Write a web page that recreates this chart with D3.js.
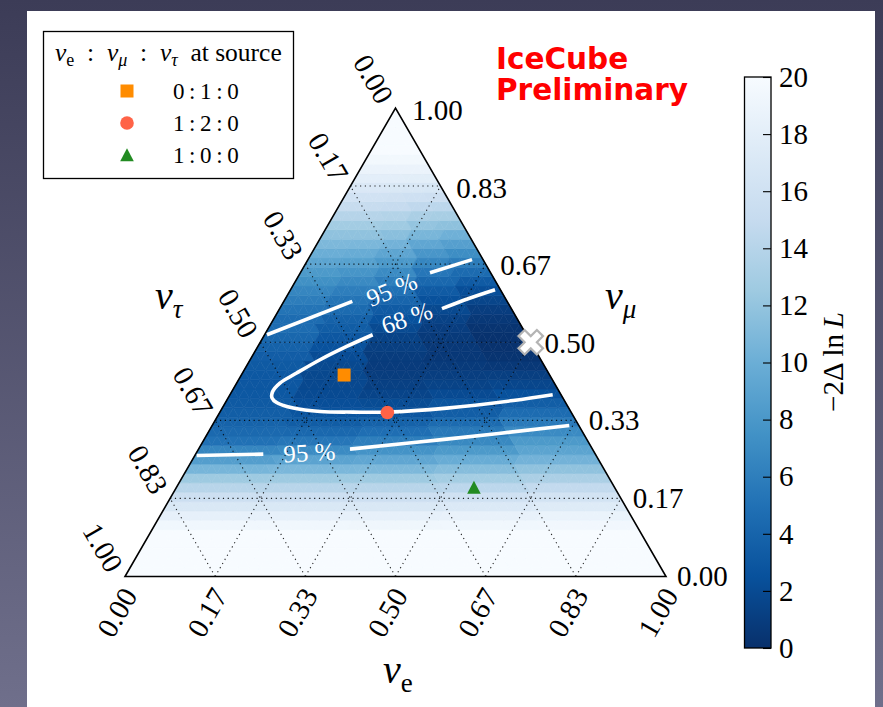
<!DOCTYPE html>
<html>
<head>
<meta charset="utf-8">
<script src="https://cdn.jsdelivr.net/npm/d3@7"></script>
<style>
  body { margin: 0; }
  svg { display: block; }
  .serif { font-family: "Liberation Serif", "Times New Roman", serif; }
</style>
</head>
<body>
<svg id="chart" width="883" height="707"></svg>
<script>
// ---------------- data ----------------
// Tick labels shared by the three ternary axes
const axisTickLabels = ["0.00", "0.17", "0.33", "0.50", "0.67", "0.83", "1.00"];
const axisTickFractions = [0, 1 / 6, 2 / 6, 3 / 6, 4 / 6, 5 / 6, 1];

// -2ΔlnL on horizontal bands of ν_μ fraction (50 bands, 0.00 .. 0.98),
// sampled at five positions along each band, t = ν_e / (ν_e + ν_τ)
const bandCount = 50;
const bandSamplePositions = [0.1, 0.3, 0.5, 0.7, 0.9];
const nll_t10 = [20, 20, 20, 20, 20, 19.3, 18.3, 17.0, 15.6, 14.1,
                 12.5, 10.6, 8.6, 6.6, 5.0, 4.4, 3.9, 3.5, 3.2, 3.05,
                 3.0, 3.05, 3.2, 3.45, 3.8, 4.2, 4.6, 4.6, 5.2, 5.9,
                 6.6, 7.4, 8.2, 9.1, 10.0, 10.9, 11.8, 12.8, 14.0, 15.1,
                 16.1, 17.1, 18.0, 18.8, 19.5, 20, 20, 20, 20, 20];
const nll_t30 = [20, 20, 20, 20, 20, 19.3, 18.3, 17.0, 15.6, 14.1,
                 12.5, 10.8, 9.0, 7.0, 5.4, 4.3, 3.4, 2.8, 2.3, 2.0,
                 1.85, 1.8, 1.9, 2.15, 2.6, 3.0, 3.4, 3.8, 4.5, 5.2,
                 6.0, 6.9, 7.8, 8.8, 9.8, 10.8, 11.8, 12.8, 14.0, 15.1,
                 16.1, 17.1, 18.0, 18.8, 19.5, 20, 20, 20, 20, 20];
const nll_t50 = [20, 20, 20, 20, 20, 19.2, 18.3, 17.0, 15.6, 14.1,
                 12.5, 10.9, 9.3, 7.6, 6.0, 4.8, 3.8, 2.9, 2.1, 1.55,
                 1.2, 0.95, 0.85, 0.9, 1.1, 1.45, 1.95, 2.55, 3.25, 4.1,
                 5.0, 6.0, 7.0, 8.1, 9.2, 10.4, 11.5, 12.6, 13.8, 15.0,
                 16.0, 17.0, 18.0, 18.8, 19.5, 20, 20, 20, 20, 20];
const nll_t70 = [20, 20, 20, 20, 20, 19.3, 18.5, 17.2, 15.9, 14.4,
                 12.9, 11.3, 9.8, 8.2, 6.8, 5.6, 4.5, 3.5, 2.7, 2.0,
                 1.45, 1.05, 0.75, 0.6, 0.6, 0.75, 1.0, 1.4, 1.9, 2.5,
                 3.3, 4.3, 5.4, 6.6, 7.9, 9.3, 10.7, 12.0, 13.3, 14.6,
                 15.8, 16.9, 17.9, 18.8, 19.5, 20, 20, 20, 20, 20];
const nll_t90 = [20, 20, 20, 20, 20, 19.4, 18.7, 17.5, 16.2, 14.8,
                 13.3, 11.8, 10.4, 9.1, 8.2, 7.0, 5.7, 4.6, 3.5, 2.5,
                 1.7, 1.1, 0.6, 0.3, 0.15, 0.15, 0.3, 0.6, 1.0, 1.6,
                 2.3, 3.3, 4.5, 5.8, 7.2, 8.7, 10.2, 11.7, 13.1, 14.4,
                 15.7, 16.8, 17.9, 18.8, 19.5, 20, 20, 20, 20, 20];

// Confidence contours as [ν_e, ν_μ] polylines (gaps leave room for labels)
const contour68 = [
  [[0.3778, 0.6122], [0.3376, 0.5929], [0.3001, 0.5716]],
  [[0.1998, 0.5160], [0.1643, 0.4910], [0.1292, 0.4626], [0.1002, 0.4342],
   [0.0800, 0.4128], [0.0756, 0.3942], [0.0810, 0.3814], [0.0956, 0.3707],
   [0.1314, 0.3594], [0.1845, 0.3521], [0.2466, 0.3509], [0.3094, 0.3509],
   [0.4150, 0.3594], [0.5300, 0.3756], [0.5967, 0.3878]]
];
const contour95 = [
  [[0.3033, 0.6763], [0.2395, 0.6485]],
  [[0.1266, 0.5872], [0.0044, 0.5160]],
  [[0.0035, 0.2581], [0.1251, 0.2611]],
  [[0.2800, 0.2718], [0.4480, 0.2932], [0.6601, 0.3222]]
];
const contourLabels = [
  { text: "68 %", at: [0.2449, 0.5517], angle: -19 },
  { text: "95 %", at: [0.1869, 0.6122], angle: -22 },
  { text: "95 %", at: [0.2083, 0.2645], angle: -3 }
];

// Flavour composition at Earth for three source scenarios, [ν_e, ν_μ, ν_τ]
const sourceRatios = ["0\u2009:\u20091\u2009:\u20090", "1\u2009:\u20092\u2009:\u20090", "1\u2009:\u20090\u2009:\u20090"];
const sourceEarthFlavour = [[0.19, 0.43, 0.38], [0.31, 0.35, 0.34], [0.55, 0.19, 0.26]];
const sourceColors = ["#ff8c00", "#ff6347", "#228b22"];
const sourceShapes = ["square", "circle", "triangle"];
const bestFit = [0.5, 0.5, 0.0];

// Colour bar
const colorbarTicks = [0, 2, 4, 6, 8, 10, 12, 14, 16, 18, 20];
const bluesStops = [0, 2.5, 5, 7.5, 10, 12.5, 15, 17.5, 20];
const bluesColors = ["#08306b", "#08519c", "#2171b5", "#4292c6", "#6baed6",
                     "#9ecae1", "#c6dbef", "#deebf7", "#f7fbff"];

// ---------------- layout ----------------
const svg = d3.select("#chart");
const defs = svg.append("defs");

const triLeft = 125, triRight = 666, triBottom = 576.5;
const triTop = triBottom - (triRight - triLeft) * Math.sqrt(3) / 2;

const xs = d3.scaleLinear().domain([0, 1]).range([triLeft, triRight]);
const ys = d3.scaleLinear().domain([0, 1]).range([triBottom, triTop]);
// (ν_e, ν_μ) -> screen
const project = (fe, fmu) => [xs(fe + fmu / 2), ys(fmu)];

const color = d3.scaleLinear().domain(bluesStops).range(bluesColors)
  .interpolate(d3.interpolateRgb).clamp(true);

// slide background and white panel
const bg = defs.append("linearGradient").attr("id", "slideBg")
  .attr("x1", 0).attr("y1", 0).attr("x2", 0).attr("y2", 1);
bg.append("stop").attr("offset", 0).attr("stop-color", "#3c3c57");
bg.append("stop").attr("offset", 1).attr("stop-color", "#6f6f8b");
svg.append("rect").attr("width", 883).attr("height", 707).attr("fill", "url(#slideBg)");
svg.append("rect").attr("x", 27).attr("y", 11).attr("width", 848).attr("height", 696).attr("fill", "#ffffff");

// ---------------- heatmap ----------------
const bandSeries = [nll_t10, nll_t30, nll_t50, nll_t70, nll_t90];
const sampleIndex = d3.scaleQuantize().domain([0, 1]).range(d3.range(bandSamplePositions.length));
const cells = [];
for (let j = 0; j < bandCount; j++) {
  for (let i = 0; i < bandCount - j; i++) {
    cells.push({ row: j, pts: [[i, j], [i + 1, j], [i, j + 1]] });
    if (i < bandCount - j - 1) cells.push({ row: j, pts: [[i + 1, j], [i + 1, j + 1], [i, j + 1]] });
  }
}
cells.forEach(c => {
  const ce = d3.mean(c.pts, p => p[0]) / bandCount;
  const cm = d3.mean(c.pts, p => p[1]) / bandCount;
  const t = ce / (1 - cm);
  c.value = bandSeries[sampleIndex(Math.min(1, Math.max(0, t)))][c.row];
});
const heat = svg.append("g");
heat.selectAll("path").data(cells).join("path")
  .attr("d", c => "M" + c.pts.map(p => project(p[0] / bandCount, p[1] / bandCount).join(",")).join("L") + "Z")
  .attr("fill", c => color(c.value))
  .attr("stroke", c => color(c.value))
  .attr("stroke-width", 0.6);

// ---------------- grid ----------------
const grid = svg.append("g").attr("stroke", "#000").attr("stroke-width", 1.1)
  .attr("stroke-dasharray", "1.2,3.6").attr("opacity", 0.85).attr("fill", "none");
axisTickFractions.slice(1, -1).forEach(f => {
  const segs = [
    [project(0, f), project(1 - f, f)],
    [project(f, 0), project(f, 1 - f)],
    [project(1 - f, 0), project(0, 1 - f)]
  ];
  segs.forEach(s => grid.append("line")
    .attr("x1", s[0][0]).attr("y1", s[0][1]).attr("x2", s[1][0]).attr("y2", s[1][1]));
});

// triangle frame
const corners = [project(0, 0), project(1, 0), project(0, 1)];
svg.append("path").attr("d", "M" + corners.map(p => p.join(",")).join("L") + "Z")
  .attr("fill", "none").attr("stroke", "#000").attr("stroke-width", 1.6);

// ---------------- contours ----------------
const line = d3.line().x(d => project(d[0], d[1])[0]).y(d => project(d[0], d[1])[1]).curve(d3.curveCatmullRom);
const contours = svg.append("g").attr("fill", "none").attr("stroke", "#fff")
  .attr("stroke-width", 3.6).attr("stroke-linejoin", "round");
contours.selectAll("path.c68").data(contour68).join("path").attr("class", "c68").attr("d", line);
contours.selectAll("path.c95").data(contour95).join("path").attr("class", "c95").attr("d", line);
svg.append("g").attr("class", "serif").selectAll("text").data(contourLabels).join("text")
  .attr("transform", d => { const p = project(d.at[0], d.at[1]); return `translate(${p[0]},${p[1]}) rotate(${d.angle})`; })
  .attr("text-anchor", "middle").attr("dominant-baseline", "central")
  .attr("font-size", 25).attr("fill", "#fff").text(d => d.text);

// ---------------- markers ----------------
function drawMarker(g, shape, x, y, fill) {
  if (shape === "square") {
    g.append("rect").attr("x", x - 6.5).attr("y", y - 6.5).attr("width", 13).attr("height", 13).attr("fill", fill);
  } else if (shape === "circle") {
    g.append("circle").attr("cx", x).attr("cy", y).attr("r", 6.8).attr("fill", fill);
  } else {
    g.append("path").attr("d", `M${x},${y - 6.8}L${x + 6.8},${y + 6.2}L${x - 6.8},${y + 6.2}Z`).attr("fill", fill);
  }
}
const marks = svg.append("g");
sourceEarthFlavour.forEach((f, i) => {
  const p = project(f[0], f[1]);
  drawMarker(marks, sourceShapes[i], p[0], p[1], sourceColors[i]);
});
// best fit: filled "X"
{
  const u = 26 / 6;
  const plus = [[-1, -3], [-1, -1], [-3, -1], [-3, 1], [-1, 1], [-1, 3], [1, 3], [1, 1], [3, 1], [3, -1], [1, -1], [1, -3]];
  const c = Math.SQRT1_2;
  const p = project(bestFit[0], bestFit[1]);
  const pts = plus.map(([a, b]) => [p[0] + (a * c - b * c) * u, p[1] + (a * c + b * c) * u]);
  marks.append("path").attr("d", "M" + pts.map(q => q.join(",")).join("L") + "Z")
    .attr("fill", "#ffffff").attr("stroke", "#b4b4b4").attr("stroke-width", 2.2).attr("stroke-linejoin", "miter");
}

// ---------------- tick labels ----------------
const tickFont = 29;
const tl = svg.append("g").attr("class", "serif").attr("font-size", tickFont).attr("fill", "#000");
axisTickFractions.forEach((f, k) => {
  // ν_e along the bottom
  let p = project(f, 0);
  tl.append("text").attr("transform", `translate(${p[0] - 8},${p[1] + 36}) rotate(-60)`)
    .attr("text-anchor", "middle").attr("dominant-baseline", "central").text(axisTickLabels[k]);
  // ν_τ along the left side
  p = project(0, 1 - f);
  tl.append("text").attr("transform", `translate(${p[0] - 22},${p[1] - 29}) rotate(60)`)
    .attr("text-anchor", "middle").attr("dominant-baseline", "central").text(axisTickLabels[k]);
  // ν_μ along the right side
  p = project(1 - f, f);
  tl.append("text").attr("x", p[0] + 11 + 5.5 * f).attr("y", p[1] - 1 + 3 * f)
    .attr("dominant-baseline", "central").text(axisTickLabels[k]);
});

// axis titles
function nuTitle(x, y, sub, subItalic) {
  const t = svg.append("text").attr("class", "serif").attr("x", x).attr("y", y).attr("font-size", 40);
  t.append("tspan").attr("font-style", "italic").text("\u03bd");
  t.append("tspan").attr("font-size", 27).attr("dy", 9).attr("font-style", subItalic ? "italic" : "normal").text(sub);
}
nuTitle(155, 309, "\u03c4", true);
nuTitle(605, 309, "\u03bc", true);
nuTitle(383, 683, "e", false);

// ---------------- legend ----------------
const lg = svg.append("g").attr("class", "serif");
lg.append("rect").attr("x", 43.5).attr("y", 31.5).attr("width", 250).attr("height", 147)
  .attr("fill", "#fff").attr("stroke", "#000").attr("stroke-width", 1.3);
{
  const t = lg.append("text").attr("x", 55).attr("y", 61).attr("font-size", 25.5);
  const parts = [
    ["\u03bd", "italic", 25.5, 0], ["e", "normal", 18, 5], ["\u2002:\u2002", "normal", 25.5, -5],
    ["\u03bd", "italic", 25.5, 0], ["\u03bc", "italic", 18, 5], ["\u2002:\u2002", "normal", 25.5, -5],
    ["\u03bd", "italic", 25.5, 0], ["\u03c4", "italic", 18, 5], ["\u2002at source", "normal", 25.5, -5]
  ];
  parts.forEach(([s, st, fs, dy]) => t.append("tspan").attr("font-style", st).attr("font-size", fs).attr("dy", dy).text(s));
}
sourceRatios.forEach((r, i) => {
  const y = 91 + i * 32;
  drawMarker(lg, sourceShapes[i], 127, y, sourceColors[i]);
  lg.append("text").attr("x", 173).attr("y", y + 7.5).attr("font-size", 23).text(r);
});

// IceCube Preliminary (two stacked lines)
const icLines = ["IceCube", "Preliminary"];
svg.append("g").selectAll("text").data(icLines).join("text")
  .style("font-family", "'DejaVu Sans', sans-serif").style("font-weight", "bold")
  .attr("font-size", 29.5).attr("fill", "#ff0000")
  .attr("x", 496).attr("y", (d, i) => 68.5 + i * 31).text(d => d);

// ---------------- colour bar ----------------
const cbX = 744.5, cbW = 26.5, cbTop = 77, cbBottom = 648;
const cbScale = d3.scaleLinear().domain([0, 20]).range([cbBottom, cbTop]);
const cg = defs.append("linearGradient").attr("id", "cbGrad")
  .attr("x1", 0).attr("y1", 1).attr("x2", 0).attr("y2", 0);
bluesStops.forEach(v => cg.append("stop").attr("offset", v / 20).attr("stop-color", color(v)));
svg.append("rect").attr("x", cbX).attr("y", cbTop).attr("width", cbW).attr("height", cbBottom - cbTop)
  .attr("fill", "url(#cbGrad)");
const cbAxis = svg.append("g").attr("transform", `translate(${cbX + cbW},0)`)
  .call(d3.axisRight(cbScale).tickValues(colorbarTicks).tickFormat(d3.format("d"))
    .tickSizeInner(-8).tickSizeOuter(0).tickPadding(8));
cbAxis.select(".domain").remove();
cbAxis.selectAll("line").attr("stroke", "#000").attr("stroke-width", 1.1);
cbAxis.selectAll("text").style("font-family", "'Liberation Serif', serif").attr("font-size", tickFont).attr("fill", "#000");
svg.append("rect").attr("x", cbX).attr("y", cbTop).attr("width", cbW).attr("height", cbBottom - cbTop)
  .attr("fill", "none").attr("stroke", "#000").attr("stroke-width", 1.3);
{
  const t = svg.append("text").attr("class", "serif").attr("transform", "translate(843,362) rotate(-90)")
    .attr("text-anchor", "middle").attr("font-size", 29);
  t.append("tspan").text("\u22122\u0394\u2009ln\u2009");
  t.append("tspan").attr("font-style", "italic").text("L");
}
</script>
</body>
</html>
